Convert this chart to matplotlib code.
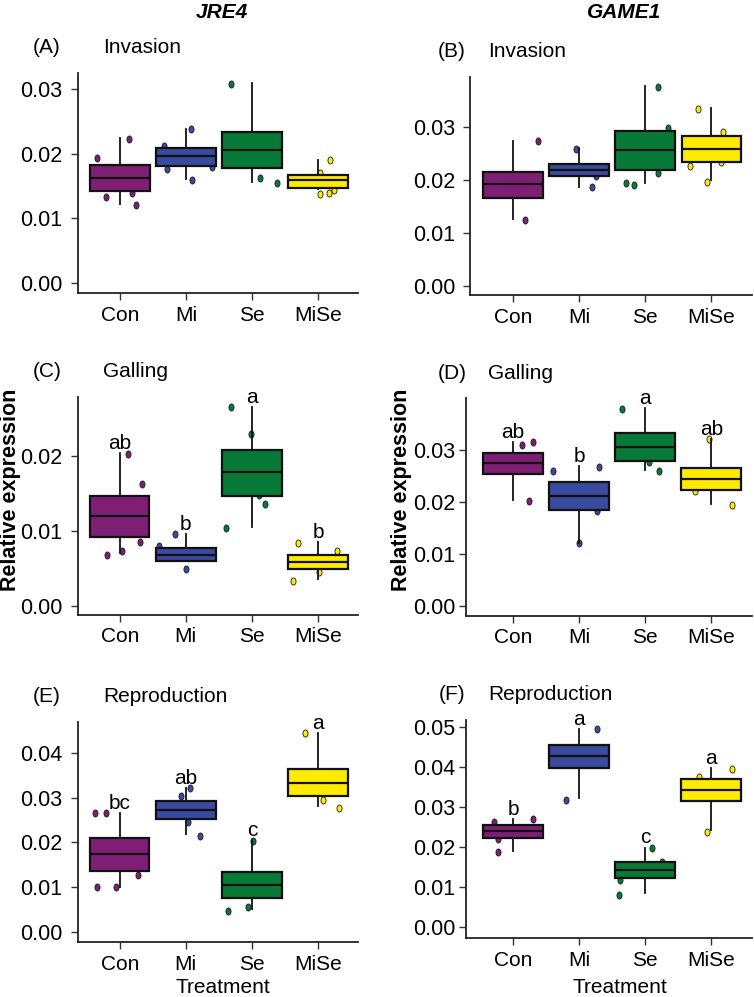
import matplotlib
matplotlib.use("Agg")
import matplotlib.pyplot as plt
from matplotlib.path import Path
from matplotlib.ticker import FormatStrFormatter, FixedLocator

plt.rcParams['font.family'] = ['Liberation Sans', 'DejaVu Sans']

GROUPS = ['Con', 'Mi', 'Se', 'MiSe']
COLORS = ['#7E1F74', '#3A4A9E', '#077A38', '#FFEB00']

# (A) JRE4 invasion
A_LOW = [0.0122, 0.0161, 0.0157, 0.0146]
A_Q1 = [0.0143, 0.0181, 0.0178, 0.0147]
A_MED = [0.0163, 0.0196, 0.0206, 0.0159]
A_Q3 = [0.0183, 0.0209, 0.0233, 0.0167]
A_HIGH = [0.0225, 0.0239, 0.0309, 0.0190]
A_PTS = [[0.0194, 0.0133, 0.0223, 0.0140, 0.0120],
         [0.0212, 0.0177, 0.0238, 0.0159, 0.0180],
         [0.0308, 0.0163, 0.0155],
         [0.0138, 0.0170, 0.0140, 0.0190, 0.0144]]
A_JIT = [[-0.35, -0.21, 0.13, 0.18, 0.24],
         [-0.33, -0.28, 0.07, 0.09, 0.39],
         [-0.32, 0.12, 0.38],
         [0.03, 0.03, 0.17, 0.18, 0.25]]

# (B) GAME1 invasion
B_LOW = [0.0126, 0.0187, 0.0193, 0.0199]
B_Q1 = [0.0166, 0.0206, 0.0218, 0.0233]
B_MED = [0.0191, 0.0218, 0.0255, 0.0258]
B_Q3 = [0.0214, 0.0230, 0.0291, 0.0282]
B_HIGH = [0.0272, 0.0259, 0.0376, 0.0335]
B_PTS = [[0.0124, 0.0272],
         [0.0258, 0.0186, 0.0206],
         [0.0193, 0.0189, 0.0374, 0.0212, 0.0297],
         [0.0226, 0.0333, 0.0196, 0.0233, 0.0289]]
B_JIT = [[0.18, 0.37],
         [-0.05, 0.20, 0.25],
         [-0.29, -0.17, 0.20, 0.20, 0.35],
         [-0.32, -0.20, -0.07, 0.15, 0.18]]

# (C) JRE4 galling
C_LOW = [0.0070, 0.0059, 0.0105, 0.0036]
C_Q1 = [0.0091, 0.0059, 0.0147, 0.0049]
C_MED = [0.0119, 0.0068, 0.0178, 0.0058]
C_Q3 = [0.0147, 0.0077, 0.0208, 0.0067]
C_HIGH = [0.0204, 0.0095, 0.0265, 0.0085]
C_PTS = [[0.0067, 0.0073, 0.0203, 0.0085, 0.0162],
         [0.0079, 0.0095, 0.0049],
         [0.0103, 0.0265, 0.0229, 0.0148, 0.0136],
         [0.0033, 0.0084, 0.0045, 0.0073]]
C_JIT = [[-0.19, 0.03, 0.13, 0.30, 0.33],
         [-0.40, -0.16, 0.01],
         [-0.39, -0.31, -0.02, 0.11, 0.20],
         [-0.38, -0.30, 0.02, 0.29]]
C_LETTERS = ['ab', 'b', 'a', 'b']

# (D) GAME1 galling
D_LOW = [0.0204, 0.0121, 0.0261, 0.0196]
D_Q1 = [0.0254, 0.0185, 0.0279, 0.0222]
D_MED = [0.0275, 0.0211, 0.0306, 0.0243]
D_Q3 = [0.0294, 0.0238, 0.0332, 0.0264]
D_HIGH = [0.0314, 0.0268, 0.0380, 0.0321]
D_PTS = [[0.0309, 0.0202, 0.0314],
         [0.0259, 0.0121, 0.0183, 0.0266],
         [0.0379, 0.0276, 0.0259],
         [0.0220, 0.0320, 0.0194]]
D_JIT = [[0.14, 0.24, 0.30],
         [-0.40, 0.00, 0.27, 0.30],
         [-0.35, 0.06, 0.21],
         [-0.25, -0.03, 0.31]]
D_LETTERS = ['ab', 'b', 'a', 'ab']

# (E) JRE4 reproduction
E_LOW = [0.0101, 0.0218, 0.0050, 0.0282]
E_Q1 = [0.0135, 0.0253, 0.0076, 0.0304]
E_MED = [0.0174, 0.0273, 0.0105, 0.0334]
E_Q3 = [0.0211, 0.0292, 0.0133, 0.0364]
E_HIGH = [0.0266, 0.0322, 0.0206, 0.0446]
E_PTS = [[0.0266, 0.0100, 0.0266, 0.0100, 0.0127],
         [0.0304, 0.0246, 0.0322, 0.0215],
         [0.0046, 0.0055, 0.0204],
         [0.0446, 0.0295, 0.0278]]
E_JIT = [[-0.37, -0.35, -0.21, -0.05, 0.28],
         [-0.07, 0.04, 0.07, 0.22],
         [-0.36, -0.06, 0.02],
         [-0.20, 0.08, 0.32]]
E_LETTERS = ['bc', 'ab', 'c', 'a']

# (F) GAME1 reproduction
F_LOW = [0.0191, 0.0323, 0.0085, 0.0243]
F_Q1 = [0.0224, 0.0398, 0.0123, 0.0316]
F_MED = [0.0240, 0.0427, 0.0143, 0.0343]
F_Q3 = [0.0256, 0.0456, 0.0163, 0.0370]
F_HIGH = [0.0270, 0.0495, 0.0199, 0.0398]
F_PTS = [[0.0263, 0.0187, 0.0220, 0.0270],
         [0.0318, 0.0496],
         [0.0081, 0.0118, 0.0199, 0.0163],
         [0.0375, 0.0239, 0.0396]]
F_JIT = [[-0.28, -0.23, -0.22, 0.30],
         [-0.20, 0.27],
         [-0.39, -0.38, 0.10, 0.25],
         [-0.19, -0.07, 0.31]]
F_LETTERS = ['b', 'a', 'c', 'a']

# panel layout in figure fractions
panels = [
    dict(tag='(A)', title='Invasion', rect=[0.1034, 0.7061, 0.3714, 0.2207], ypad=6,
         stats=(A_LOW, A_Q1, A_MED, A_Q3, A_HIGH), pts=A_PTS, jit=A_JIT, letters=None,
         ylim=(-0.00155, 0.0325), yticks=[0, 0.01, 0.02, 0.03], xlim=(0.364, 4.606)),
    dict(tag='(B)', title='Invasion', rect=[0.6238, 0.7041, 0.3736, 0.2190], ypad=6,
         stats=(B_LOW, B_Q1, B_MED, B_Q3, B_HIGH), pts=B_PTS, jit=B_JIT, letters=None,
         ylim=(-0.00175, 0.0394), yticks=[0, 0.01, 0.02, 0.03], xlim=(0.353, 4.617)),
    dict(tag='(C)', title='Galling', rect=[0.1030, 0.3832, 0.3719, 0.2190], ypad=6,
         stats=(C_LOW, C_Q1, C_MED, C_Q3, C_HIGH), pts=C_PTS, jit=C_JIT, letters=C_LETTERS,
         ylim=(-0.00124, 0.0279), yticks=[0, 0.01, 0.02], xlim=(0.364, 4.606)),
    dict(tag='(D)', title='Galling', rect=[0.6184, 0.3824, 0.3789, 0.2182], ypad=3,
         stats=(D_LOW, D_Q1, D_MED, D_Q3, D_HIGH), pts=D_PTS, jit=D_JIT, letters=D_LETTERS,
         ylim=(-0.00191, 0.0399), yticks=[0, 0.01, 0.02, 0.03], xlim=(0.293, 4.617)),
    dict(tag='(E)', title='Reproduction', rect=[0.1030, 0.0549, 0.3719, 0.2213], ypad=6,
         stats=(E_LOW, E_Q1, E_MED, E_Q3, E_HIGH), pts=E_PTS, jit=E_JIT, letters=E_LETTERS,
         ylim=(-0.00238, 0.0471), yticks=[0, 0.01, 0.02, 0.03, 0.04], xlim=(0.364, 4.606)),
    dict(tag='(F)', title='Reproduction', rect=[0.6184, 0.0589, 0.3789, 0.2190], ypad=3,
         stats=(F_LOW, F_Q1, F_MED, F_Q3, F_HIGH), pts=F_PTS, jit=F_JIT, letters=F_LETTERS,
         ylim=(-0.00275, 0.0518), yticks=[0, 0.01, 0.02, 0.03, 0.04, 0.05], xlim=(0.293, 4.617)),
]

# oval point marker (slightly taller than wide, like the original)
_circ = Path.unit_circle()
OVAL = Path(_circ.vertices * [0.72, 1.0], _circ.codes)

FS = 15
fig = plt.figure(figsize=(7.54, 9.97), dpi=100)

for p in panels:
    ax = fig.add_axes(p['rect'])
    lo, q1, med, q3, hi = p['stats']

    # jittered points underneath boxes
    for i, (vals, offs) in enumerate(zip(p['pts'], p['jit'])):
        ax.scatter([i + 1 + o for o in offs], vals, marker=OVAL, s=26,
                   facecolor=COLORS[i], edgecolor='#1a1a1a', linewidths=0.6, zorder=1)

    bstats = [dict(whislo=lo[i], q1=q1[i], med=med[i], q3=q3[i], whishi=hi[i], label=g)
              for i, g in enumerate(GROUPS)]
    bp = ax.bxp(bstats, positions=[1, 2, 3, 4], widths=0.9, patch_artist=True,
                showcaps=False, showfliers=False,
                boxprops=dict(linewidth=1.6, edgecolor='#111111'),
                medianprops=dict(color='#111111', linewidth=1.6),
                whiskerprops=dict(color='#111111', linewidth=1.3))
    for patch, c in zip(bp['boxes'], COLORS):
        patch.set_facecolor(c)
        patch.set_zorder(2)
    for m in bp['medians']:
        m.set_zorder(3)

    if p['letters']:
        for i, lab in enumerate(p['letters']):
            ax.annotate(lab, (i + 1, hi[i]), xytext=(0, 3), textcoords='offset points',
                        ha='center', va='baseline', fontsize=FS)

    ax.set_xlim(*p['xlim'])
    ax.set_ylim(*p['ylim'])
    ax.yaxis.set_major_locator(FixedLocator(p['yticks']))
    ax.yaxis.set_major_formatter(FormatStrFormatter('%.2f'))
    ax.set_xticks([1, 2, 3, 4])
    ax.set_xticklabels(GROUPS)
    ax.tick_params(length=5, width=1.0, color='#333333')
    ax.tick_params(axis='y', pad=p['ypad'], labelsize=15.5)
    ax.tick_params(axis='x', pad=4, labelsize=FS)
    for s in ['top', 'right']:
        ax.spines[s].set_visible(False)
    for s in ['left', 'bottom']:
        ax.spines[s].set_linewidth(1.3)
        ax.spines[s].set_color('#222222')
    ax.set_facecolor('none')

    # panel tag and title above the axes
    l, b, w, h = p['rect']
    ytxt = b + h + 25 / 997
    if p['tag'] in ('(A)', '(C)', '(E)'):
        fig.text(47 / 754, ytxt, p['tag'], fontsize=FS, ha='center', va='center')
        fig.text(103 / 754, ytxt, p['title'], fontsize=FS, ha='left', va='center')
    else:
        fig.text(452 / 754, ytxt, p['tag'], fontsize=FS, ha='center', va='center')
        fig.text(488 / 754, ytxt, p['title'], fontsize=FS, ha='left', va='center')

fig.text(222 / 754, 1 - 13 / 997, 'JRE4', fontsize=FS, fontweight='bold', fontstyle='italic',
         ha='center', va='center')
fig.text(624 / 754, 1 - 13 / 997, 'GAME1', fontsize=FS, fontweight='bold', fontstyle='italic',
         ha='center', va='center')

fig.text(11 / 754, 1 - 490 / 997, 'Relative expression', fontsize=15.5, fontweight='bold',
         rotation=90, ha='center', va='center')
fig.text(402 / 754, 1 - 490 / 997, 'Relative expression', fontsize=15.5, fontweight='bold',
         rotation=90, ha='center', va='center')

fig.text(223 / 754, 1 - 993 / 997, 'Treatment', fontsize=FS, ha='center', va='baseline')
fig.text(620 / 754, 1 - 993 / 997, 'Treatment', fontsize=FS, ha='center', va='baseline')

fig.savefig('out.png', dpi=100, facecolor='white')
